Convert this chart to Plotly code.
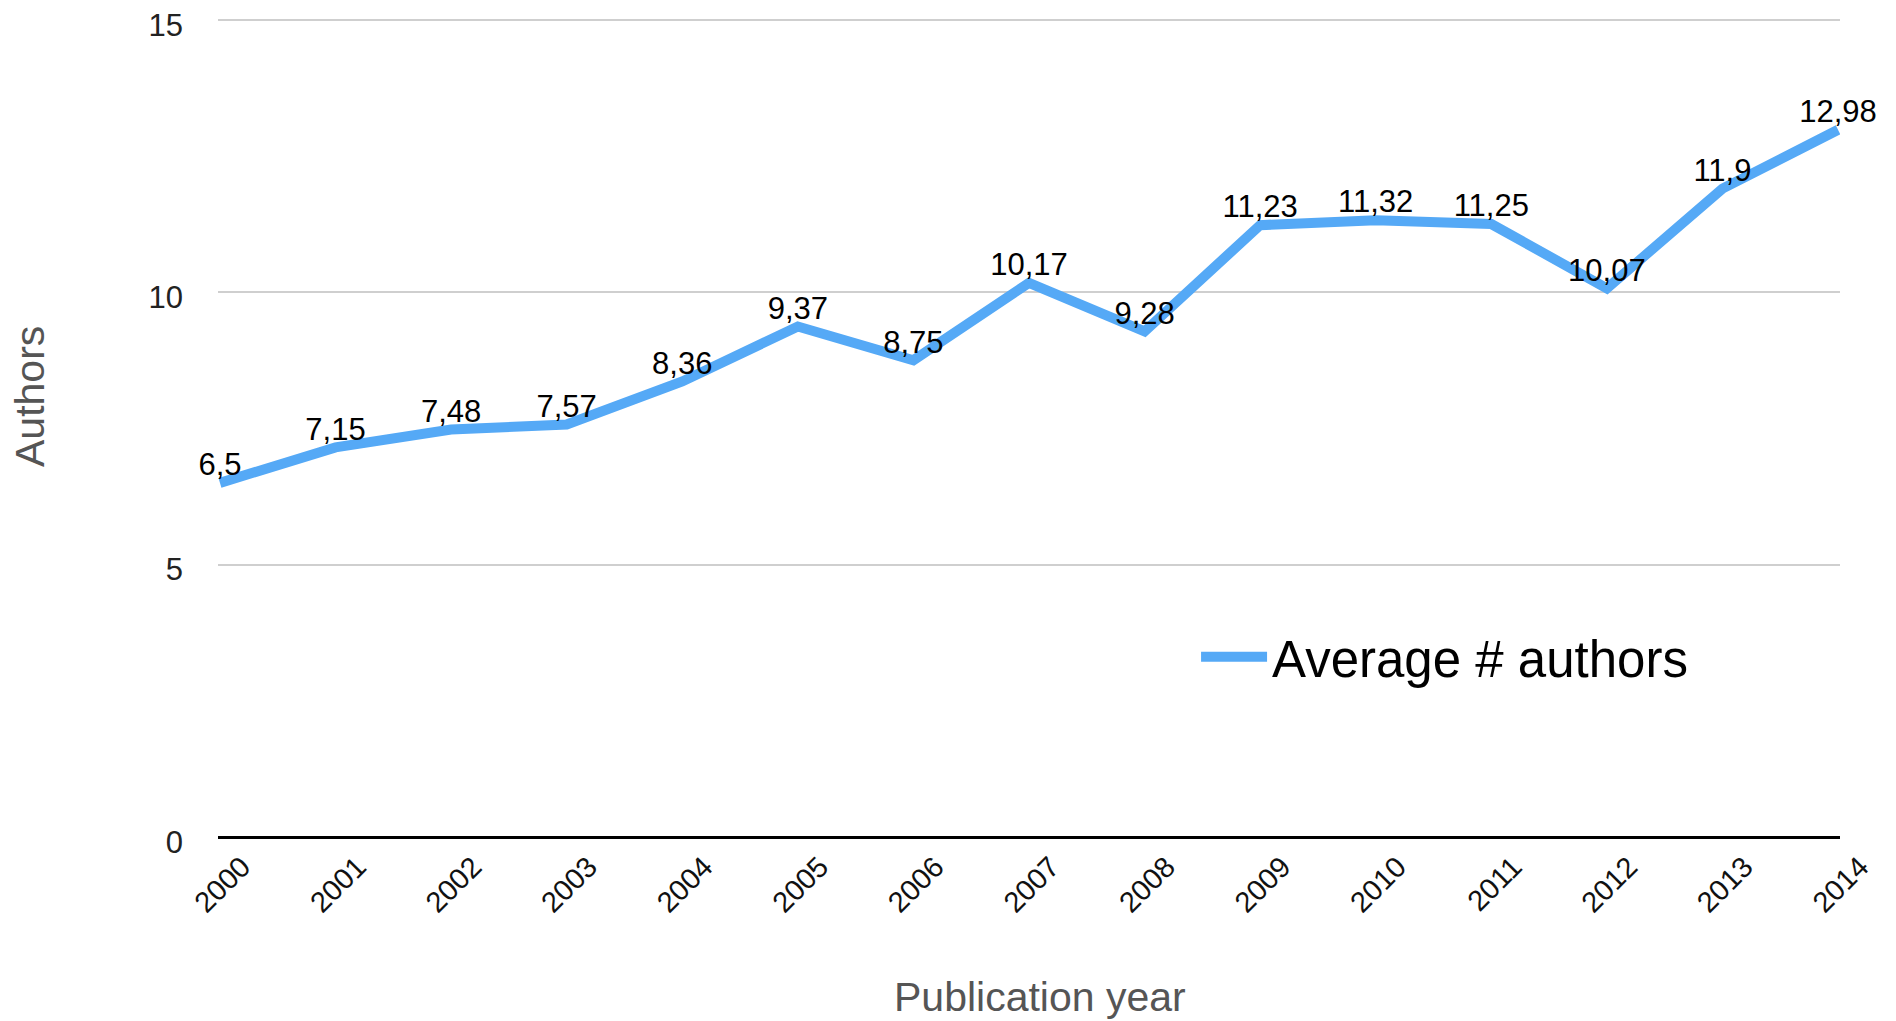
import plotly.graph_objects as go

years = [2000, 2001, 2002, 2003, 2004, 2005, 2006, 2007, 2008, 2009, 2010, 2011, 2012, 2013, 2014]
avg_authors = [6.5, 7.15, 7.48, 7.57, 8.36, 9.37, 8.75, 10.17, 9.28, 11.23, 11.32, 11.25, 10.07, 11.9, 12.98]
labels = [str(v).replace(".", ",") for v in avg_authors]
y_ticks = [0, 5, 10, 15]

FONT = "Liberation Sans"

fig = go.Figure()
fig.add_trace(go.Scatter(
    x=years, y=avg_authors, mode="lines+text", name="Average # authors",
    text=labels, textposition="top center",
    textfont=dict(family=FONT, size=31, color="#000000"),
    line=dict(color="#55a9f6", width=10),
    cliponaxis=False,
))

fig.update_layout(
    width=1896, height=1021,
    paper_bgcolor="white", plot_bgcolor="white",
    margin=dict(l=210, r=64, t=9, b=192, autoexpand=False),
    font=dict(family=FONT, color="#222222"),
    showlegend=True,
    legend=dict(x=0.603, y=0.2195, xanchor="left", yanchor="middle",
                font=dict(family=FONT, size=51, color="#000000"),
                bgcolor="rgba(0,0,0,0)", itemwidth=66),
    xaxis=dict(
        range=[1999.983, 2014.017], tickmode="array", tickvals=years,
        ticktext=[str(y) for y in years], tickangle=-45,
        tickfont=dict(family=FONT, size=29, color="#111111"),
        showgrid=False, zeroline=False, showline=False, automargin=False,
        ticks="", ticklabelshift=22, ticklabelstandoff=6,
    ),
    yaxis=dict(
        range=[0, 15.05], tickmode="array", tickvals=y_ticks,
        tickfont=dict(family=FONT, size=31, color="#222222"),
        showgrid=True, gridcolor="#cfcfcf", gridwidth=2,
        zeroline=True, zerolinecolor="#000000", zerolinewidth=3,
        showline=False, ticks="", ticklabelstandoff=34, automargin=False,
        ticklabeloverflow="allow", ticklabelshift=5,
    ),
    annotations=[
        dict(text="Authors", xref="paper", yref="paper", x=-0.1159, y=0.5366,
             xanchor="center", yanchor="middle", textangle=-90, showarrow=False,
             font=dict(family=FONT, size=41, color="#555555")),
        dict(text="Publication year", xref="paper", yref="paper", x=0.5068, y=-0.1951,
             xanchor="center", yanchor="middle", showarrow=False,
             font=dict(family=FONT, size=41, color="#555555")),
    ],
)

fig.write_html("out.html")
